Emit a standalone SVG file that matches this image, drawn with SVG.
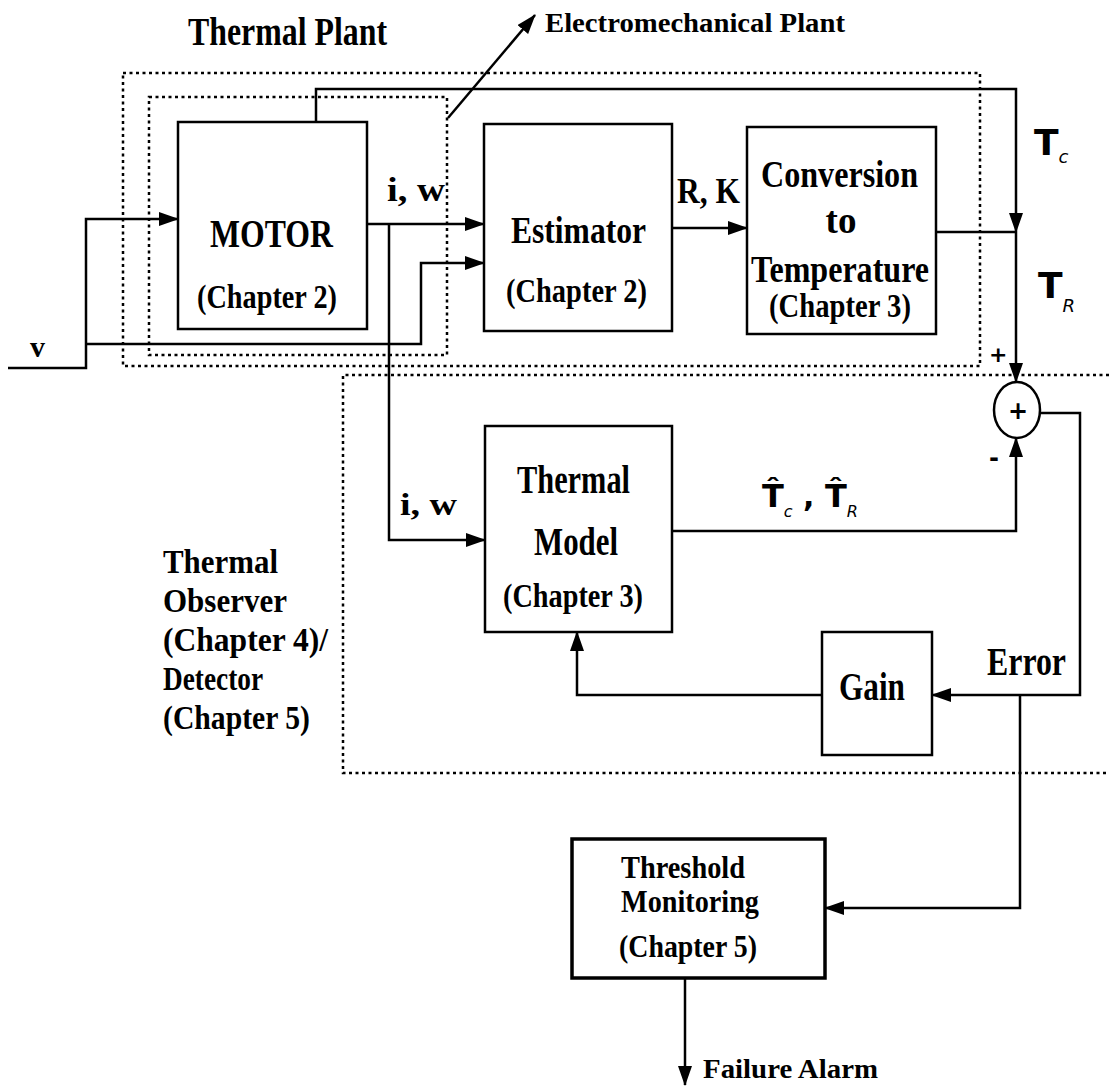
<svg xmlns="http://www.w3.org/2000/svg" width="1109" height="1087" viewBox="0 0 1109 1087">
<style>
.t{font-family:"Liberation Serif","Times New Roman",serif;font-weight:bold;fill:#000}
.s{font-family:"DejaVu Sans","Liberation Sans",Arial,sans-serif;fill:#000}
.box{fill:none;stroke:#000;stroke-width:2.5}
.dot{fill:none;stroke:#000;stroke-width:2.5;stroke-dasharray:3 3.5}
.ln{fill:none;stroke:#000;stroke-width:2.5;marker-end:url(#ah)}
.pl{fill:none;stroke:#000;stroke-width:2.5}
</style>
<defs>
<marker id="ah" markerUnits="userSpaceOnUse" markerWidth="20" markerHeight="14" refX="19" refY="7" orient="auto">
<path d="M0,0 L20,7 L0,14 Z" fill="#000"/>
</marker>
</defs>
<rect width="1109" height="1087" fill="#fff"/>

<g id="regions">
<rect class="dot" x="123" y="73" width="857" height="293"/>
<rect class="dot" x="149" y="97" width="298" height="258"/>
<path class="dot" d="M1109,375 L343,375 L343,773 L1109,773"/>
</g>

<g id="labels">
<text class="t" x="188" y="45" font-size="41" textLength="199" lengthAdjust="spacingAndGlyphs">Thermal Plant</text>
<text class="t" x="545" y="32" font-size="28" textLength="300" lengthAdjust="spacingAndGlyphs">Electromechanical Plant</text>
<text class="t" x="30" y="357" font-size="30">v</text>
<text class="t" x="387" y="201" font-size="34" textLength="58" lengthAdjust="spacingAndGlyphs">i,  w</text>
<text class="t" x="677" y="203" font-size="36" textLength="63" lengthAdjust="spacingAndGlyphs">R, K</text>
<text class="s" x="1034" y="155" font-size="36" font-weight="bold">T<tspan dy="8" font-size="18" font-weight="normal" font-style="italic">c</tspan></text>
<text class="s" x="1038" y="298" font-size="36" font-weight="bold">T<tspan dy="14" font-size="18" font-weight="normal" font-style="italic">R</tspan></text>
<text class="s" x="989" y="362" font-size="22" font-weight="bold">+</text>
<text class="s" x="989" y="466" font-size="24" font-weight="bold">-</text>
<text class="t" x="400" y="515" font-size="32" textLength="57" lengthAdjust="spacingAndGlyphs">i,  w</text>
<text class="s" x="762" y="507" font-size="32" font-weight="bold">T&#770;<tspan dy="10" font-size="16" font-weight="normal" font-style="italic">c</tspan><tspan dy="-10" font-size="30" font-weight="bold"> , </tspan>T&#770;<tspan dy="10" font-size="16" font-weight="normal" font-style="italic">R</tspan></text>
<text class="t" x="987" y="675" font-size="41" textLength="79" lengthAdjust="spacingAndGlyphs">Error</text>
<text class="t" x="163" y="573" font-size="33" textLength="115" lengthAdjust="spacingAndGlyphs">Thermal</text>
<text class="t" x="163" y="612" font-size="33" textLength="124" lengthAdjust="spacingAndGlyphs">Observer</text>
<text class="t" x="163" y="651" font-size="33" textLength="165" lengthAdjust="spacingAndGlyphs">(Chapter 4)/</text>
<text class="t" x="163" y="690" font-size="33" textLength="100" lengthAdjust="spacingAndGlyphs">Detector</text>
<text class="t" x="163" y="729" font-size="33" textLength="147" lengthAdjust="spacingAndGlyphs">(Chapter 5)</text>
<text class="t" x="703" y="1078" font-size="28" textLength="175" lengthAdjust="spacingAndGlyphs">Failure Alarm</text>
</g>

<g id="motor">
<rect class="box" x="178" y="122" width="189" height="207"/>
<text class="t" x="210" y="247" font-size="39" textLength="123" lengthAdjust="spacingAndGlyphs">MOTOR</text>
<text class="t" x="197" y="308" font-size="34" textLength="140" lengthAdjust="spacingAndGlyphs">(Chapter 2)</text>
</g>

<g id="estimator">
<rect class="box" x="484" y="124" width="188" height="207"/>
<text class="t" x="511" y="243" font-size="37" textLength="135" lengthAdjust="spacingAndGlyphs">Estimator</text>
<text class="t" x="506" y="302" font-size="34" textLength="141" lengthAdjust="spacingAndGlyphs">(Chapter 2)</text>
</g>

<g id="conversion">
<rect class="box" x="747" y="127" width="189" height="207"/>
<text class="t" x="761" y="187" font-size="37" textLength="157" lengthAdjust="spacingAndGlyphs">Conversion</text>
<text class="t" x="841" y="233" font-size="37" text-anchor="middle">to</text>
<text class="t" x="751" y="282" font-size="37" textLength="178" lengthAdjust="spacingAndGlyphs">Temperature</text>
<text class="t" x="769" y="317" font-size="34" textLength="142" lengthAdjust="spacingAndGlyphs">(Chapter 3)</text>
</g>

<g id="summer">
<ellipse cx="1017" cy="410" rx="23" ry="28" fill="none" stroke="#000" stroke-width="2.5"/>
<text class="s" x="1018" y="419" font-size="24" font-weight="bold" text-anchor="middle">+</text>
</g>

<g id="thermal-model">
<rect class="box" x="485" y="426" width="187" height="206"/>
<text class="t" x="517" y="493" font-size="39" textLength="113" lengthAdjust="spacingAndGlyphs">Thermal</text>
<text class="t" x="534" y="555" font-size="39" textLength="84" lengthAdjust="spacingAndGlyphs">Model</text>
<text class="t" x="503" y="607" font-size="34" textLength="140" lengthAdjust="spacingAndGlyphs">(Chapter 3)</text>
</g>

<g id="gain">
<rect class="box" x="822" y="632" width="110" height="123"/>
<text class="t" x="839" y="700" font-size="41" textLength="66" lengthAdjust="spacingAndGlyphs">Gain</text>
</g>

<g id="threshold">
<rect x="572" y="839" width="253" height="139" fill="none" stroke="#000" stroke-width="3.5"/>
<text class="t" x="621" y="878" font-size="31" textLength="124" lengthAdjust="spacingAndGlyphs">Threshold</text>
<text class="t" x="621" y="912" font-size="31" textLength="138" lengthAdjust="spacingAndGlyphs">Monitoring</text>
<text class="t" x="619" y="957" font-size="32" textLength="138" lengthAdjust="spacingAndGlyphs">(Chapter 5)</text>
</g>

<g id="connectors">
<polyline class="ln" points="8,368 86,368 86,219 178,219"/>
<polyline class="ln" points="86,344 421,344 421,263 484,263"/>
<polyline class="ln" points="367,224 484,224"/>
<polyline class="ln" points="389,224 389,540 485,540"/>
<polyline class="ln" points="316,122 316,89 1016,89 1016,232"/>
<polyline class="pl" points="936,232 1016,232"/>
<polyline class="ln" points="1016,232 1016,382" stroke-width="3"/>
<polyline class="ln" points="672,228 747,228"/>
<polyline class="ln" points="448,118 535,15"/>
<polyline class="ln" points="672,531 1016,531 1016,438"/>
<polyline class="ln" points="1040,413 1080,413 1080,695 932,695"/>
<polyline class="ln" points="822,695 577,695 577,632"/>
<polyline class="ln" points="1020,695 1020,908 825,908"/>
<polyline class="ln" points="685,978 685,1085"/>
</g>
</svg>
